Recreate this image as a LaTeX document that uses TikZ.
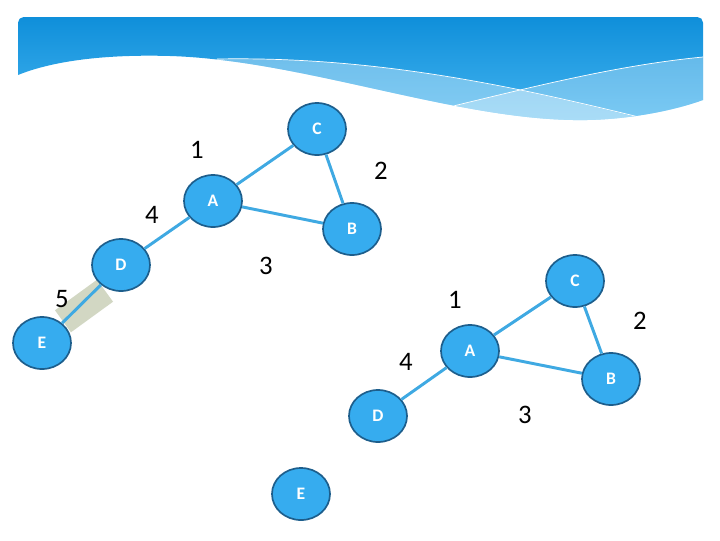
\documentclass[tikz,border=0pt]{standalone}
\usepackage{fontspec}
\setmainfont{Carlito}
\usetikzlibrary{shapes.geometric}
\definecolor{nodeblue}{HTML}{36ACEF}
\definecolor{rimblue}{HTML}{1D5E8C}
\definecolor{edgeblue}{HTML}{3FA9E2}
\definecolor{bandtop}{HTML}{0F8FDA}
\definecolor{bandbot}{HTML}{45B5F0}
\definecolor{sage}{HTML}{D2D7C3}
\tikzset{
  vertex/.style={ellipse,fill=nodeblue,draw=rimblue,line width=1.2pt,
    minimum width=1.45cm,minimum height=1.3cm,inner sep=0pt,
    text=white,font=\bfseries\fontsize{12.5}{12.5}\selectfont},
  link/.style={edgeblue,line width=2.1pt},
  wt/.style={font=\fontsize{19}{19}\selectfont},
}
\begin{document}
\begin{tikzpicture}[x=0.025cm,y=-0.025cm]
  \useasboundingbox (0,0) rectangle (720,540);
  % title banner with its wave
  \begin{scope}
    \clip (18,75) [rounded corners=4pt] -- (18,17) -- (703,17) [sharp corners] -- (703,100)
      .. controls (670,112) and (620,121) .. (573,120)
      .. controls (450,118) and (300,60) .. (170,56)
      .. controls (100,54) and (50,62) .. (18,75) -- cycle;
    \shade[top color=bandtop,bottom color=bandbot] (18,17) rectangle (703,125);
    \fill[white,opacity=0.35] (217,59) .. controls (380,56) and (520,88) .. (660,123)
      -- (200,130) -- cycle;
    \fill[white,opacity=0.3] (430,112) .. controls (540,85) and (620,65) .. (703,57)
      -- (703,130) -- (430,130) -- cycle;
    \draw[white,line width=0.5pt] (217,59) .. controls (380,56) and (520,88) .. (643,118);
    \draw[white,line width=0.5pt] (445,108) .. controls (540,85) and (620,65) .. (703,57);
  \end{scope}

  % first graph
  \node[fill=sage,rotate=36,minimum width=1.3cm,minimum height=0.68cm] (pad) at (84,306) {};
  \node[vertex] (C1) at (317,129) {C};
  \node[vertex] (A1) at (213,201) {A};
  \node[vertex] (B1) at (352,229) {B};
  \node[vertex] (D1) at (121,265) {D};
  \node[vertex] (E1) at (42,343) {E};
  \draw[link] (A1) -- (C1);
  \draw[link] (C1) -- (B1);
  \draw[link] (A1) -- (B1);
  \draw[link] (A1) -- (D1);
  \draw[link] (D1) -- (E1);
  \node[wt] (w11) at (197,150) {1};
  \node[wt] (w12) at (381,171) {2};
  \node[wt] (w13) at (266,266) {3};
  \node[wt] (w14) at (152,215) {4};
  \node[wt] (w15) at (62,299) {5};

  % second graph, edge D--E taken away
  \node[vertex] (C2) at (575,281) {C};
  \node[vertex] (A2) at (470,351) {A};
  \node[vertex] (B2) at (611,379) {B};
  \node[vertex] (D2) at (378,416) {D};
  \node[vertex] (E2) at (301,494) {E};
  \draw[link] (A2) -- (C2);
  \draw[link] (C2) -- (B2);
  \draw[link] (A2) -- (B2);
  \draw[link] (A2) -- (D2);
  \node[wt] (w21) at (455,300) {1};
  \node[wt] (w22) at (640,321) {2};
  \node[wt] (w23) at (525,415) {3};
  \node[wt] (w24) at (406,362) {4};
\end{tikzpicture}
\end{document}
